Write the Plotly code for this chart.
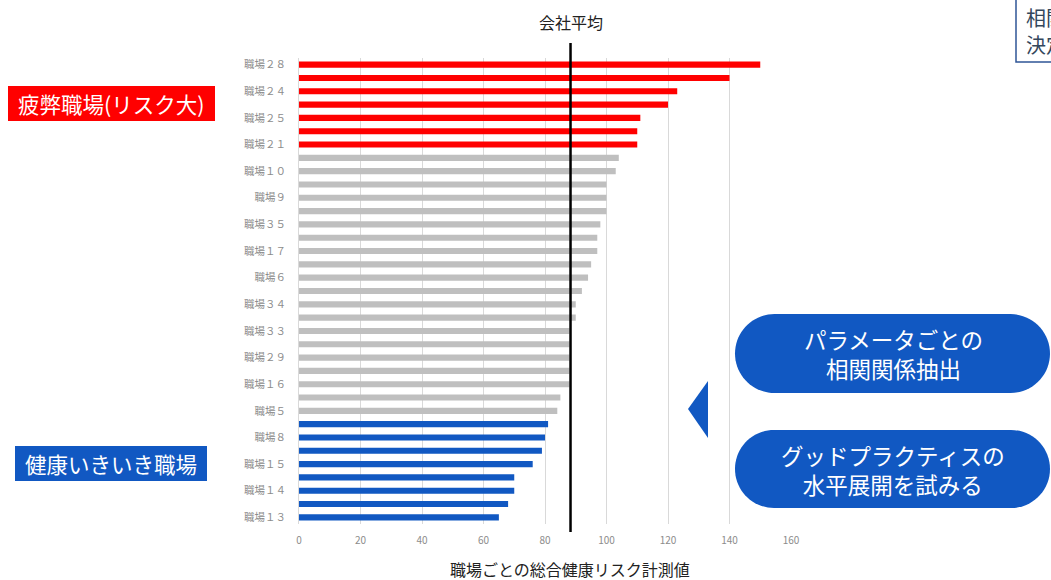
import plotly.graph_objects as go

# ---- data ----
red_values = [150, 140, 123, 120, 111, 110, 110]
gray_values = [104, 103, 100, 100, 100, 98, 97, 97, 95, 94, 92, 90, 90,
               88, 88, 88, 88, 88, 85, 84]
blue_values = [81, 80, 79, 76, 70, 70, 68, 65]
tick_labels = ["職場２８", "職場２４", "職場２５", "職場２１", "職場１０", "職場９",
               "職場３５", "職場１７", "職場６", "職場３４", "職場３３", "職場２９",
               "職場１６", "職場５", "職場８", "職場１５", "職場１４", "職場１３"]
x_ticks = [0, 20, 40, 60, 80, 100, 120, 140, 160]
company_average = 88.3

FONT = "Noto Sans CJK JP"
W, H = 1051, 580
L, R, T, B = 299, 791, 58, 524


def px(x, y):
    return (x - L) / (R - L), (B - y) / (B - T)


def pstr(x, y):
    a, b = px(x, y)
    return f"{a:.5f},{b:.5f}"


def rounded_rect(x0, y0, x1, y1, r):
    k = 0.5523 * r
    p = f"M {pstr(x0 + r, y0)} L {pstr(x1 - r, y0)} "
    p += f"C {pstr(x1 - r + k, y0)} {pstr(x1, y0 + r - k)} {pstr(x1, y0 + r)} "
    p += f"L {pstr(x1, y1 - r)} "
    p += f"C {pstr(x1, y1 - r + k)} {pstr(x1 - r + k, y1)} {pstr(x1 - r, y1)} "
    p += f"L {pstr(x0 + r, y1)} "
    p += f"C {pstr(x0 + r - k, y1)} {pstr(x0, y1 - r + k)} {pstr(x0, y1 - r)} "
    p += f"L {pstr(x0, y0 + r)} "
    p += f"C {pstr(x0, y0 + r - k)} {pstr(x0 + r - k, y0)} {pstr(x0 + r, y0)} Z"
    return p


n_red, n_gray, n_blue = len(red_values), len(gray_values), len(blue_values)
n_all = n_red + n_gray + n_blue
y_red = list(range(0, n_red))
y_gray = list(range(n_red, n_red + n_gray))
y_blue = list(range(n_red + n_gray, n_all))
tick_pos = [2 * i for i in range(len(tick_labels))]

BLUE = "#1158C2"
fig = go.Figure()
for vals, ys, col in [(red_values, y_red, "#FF0000"),
                      (gray_values, y_gray, "#BFBFBF"),
                      (blue_values, y_blue, BLUE)]:
    fig.add_trace(go.Bar(x=vals, y=ys, orientation="h", marker_color=col,
                         marker_line_width=0, width=0.46, showlegend=False))

shapes = []
annotations = []


def ann(x, y, text, size, color, xref="paper", xanchor="center", align="center"):
    annotations.append(dict(x=x, y=y, xref=xref, yref="paper", text=text,
                            showarrow=False, xanchor=xanchor, yanchor="middle",
                            align=align, font=dict(family=FONT, size=size, color=color)))


# company average line
shapes.append(dict(type="line", xref="x", yref="paper",
                   x0=company_average, x1=company_average,
                   y0=px(0, 532)[1], y1=px(0, 43)[1],
                   line=dict(color="black", width=2.5)))
ann(company_average, px(0, 22)[1], "会社平均", 16, "#222", xref="x")

# x-axis title
ann(px(570, 0)[0], px(0, 569)[1], "職場ごとの総合健康リスク計測値", 16, "#222")

# red label box
x0, y0 = px(8, 86); x1, y1 = px(215, 121)
shapes.append(dict(type="rect", xref="paper", yref="paper", x0=x0, y0=y0, x1=x1, y1=y1,
                   fillcolor="#FF0000", line=dict(width=0), layer="below"))
ann((x0 + x1) / 2, (y0 + y1) / 2, "疲弊職場(リスク大)", 21.5, "white")

# blue label box
x0, y0 = px(15, 446); x1, y1 = px(207, 481)
shapes.append(dict(type="rect", xref="paper", yref="paper", x0=x0, y0=y0, x1=x1, y1=y1,
                   fillcolor=BLUE, line=dict(width=0), layer="below"))
ann((x0 + x1) / 2, (y0 + y1) / 2, "健康いきいき職場", 21.5, "white")

# pills
for (ytop, ybot, txt) in [(314, 393, "パラメータごとの<br>相関関係抽出"),
                          (430, 508, "グッドプラクティスの<br>水平展開を試みる")]:
    shapes.append(dict(type="path", xref="paper", yref="paper",
                       path=rounded_rect(735, ytop, 1050, ybot, (ybot - ytop) / 2),
                       fillcolor=BLUE, line=dict(width=0)))
    cx, cy = px(893, (ytop + ybot) / 2)
    ann(cx, cy, txt, 22.5, "white")

# triangle arrow
shapes.append(dict(type="path", xref="paper", yref="paper",
                   path=f"M {pstr(688, 409)} L {pstr(708, 381)} L {pstr(708, 438)} Z",
                   fillcolor=BLUE, line=dict(width=0)))

# top-right partial box
x0, y0 = px(1016, -5); x1, y1 = px(1075, 62)
shapes.append(dict(type="rect", xref="paper", yref="paper", x0=x0, y0=y0, x1=x1, y1=y1,
                   fillcolor="rgba(0,0,0,0)", line=dict(color="#2F5597", width=1.5)))
for yy, t in [(17, "相関"), (44, "決定")]:
    ax, ay = px(1024, yy)
    ann(ax, ay, t, 20, "#34475C", xanchor="left", align="left")

fig.update_layout(
    width=W, height=H,
    margin=dict(l=L, r=W - R, t=T, b=H - B),
    paper_bgcolor="white", plot_bgcolor="white",
    bargap=0.5,
    shapes=shapes, annotations=annotations,
    xaxis=dict(range=[0, 160], tickvals=x_ticks, showgrid=True, gridcolor="#D9D9D9",
               gridwidth=1, zeroline=False, showline=False, ticks="",
               ticklabelstandoff=9,
               tickfont=dict(family=FONT, size=10, color="#8C8C8C")),
    yaxis=dict(range=[n_all - 0.5, -0.5], tickvals=tick_pos, ticktext=tick_labels,
               showgrid=False, zeroline=False, showline=True, linecolor="#D9D9D9",
               ticks="", ticklabelstandoff=10,
               tickfont=dict(family=FONT, size=10.5, color="#8C8C8C")),
    font=dict(family=FONT),
)

fig.write_html("out.html", config={"displayModeBar": False},
               post_script="document.body.style.margin='0px';document.body.style.overflow='hidden';")
